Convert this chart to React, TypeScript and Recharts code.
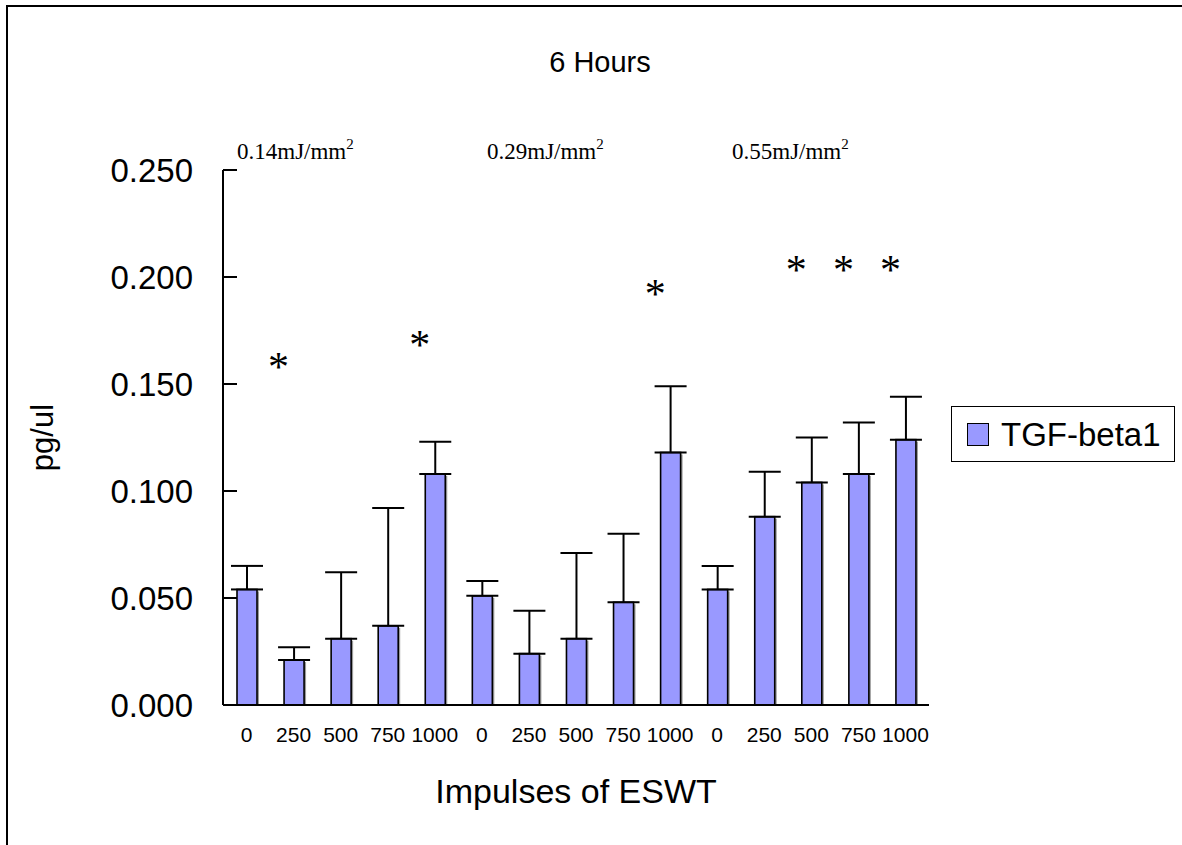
import { ComposedChart, Bar, ErrorBar, Scatter, XAxis, YAxis, Legend, Label } from 'recharts';

// impulses of ESWT, three energy groups of five
const impulses = ['0', '250', '500', '750', '1000', '0', '250', '500', '750', '1000', '0', '250', '500', '750', '1000'];
const tgfBeta1 = [0.054, 0.021, 0.031, 0.037, 0.108, 0.051, 0.024, 0.031, 0.048, 0.118, 0.054, 0.088, 0.104, 0.108, 0.124];
const tgfBeta1Err = [0.011, 0.006, 0.031, 0.055, 0.015, 0.007, 0.020, 0.040, 0.032, 0.031, 0.011, 0.021, 0.021, 0.024, 0.020];
// y position of the significance asterisks
const significance = [null, 0.161, null, null, 0.1715, null, null, null, null, 0.1953, null, null, 0.2065, 0.2065, 0.2065];
const energyLevels = ['0.14mJ/mm', '0.29mJ/mm', '0.55mJ/mm'];
const yTicks = [0, 0.05, 0.1, 0.15, 0.2, 0.25];

const data = impulses.map((imp, i) => ({
    idx: i,
    impulse: imp,
    value: tgfBeta1[i],
    err: [0, tgfBeta1Err[i]],
    star: significance[i],
}));

const SANS = 'Arial, "Liberation Sans", sans-serif';
const SERIF = '"Times New Roman", "Liberation Serif", serif';
const BAR_FILL = '#9999ff';
const Y_TICK_GAP = 30;

const YTick = ({ x, y, payload }: any) => (
    <g>
        <line x1={x + Y_TICK_GAP} x2={x + Y_TICK_GAP + 14} y1={y} y2={y} stroke="#000" strokeWidth={2} />
        <text x={x} y={y} dy="0.36em" textAnchor="end" fontSize={33} fontFamily={SANS} fill="#000">
            {Number(payload.value).toFixed(3)}
        </text>
    </g>
);

const XTick = ({ x, y, payload }: any) => (
    <text x={x} y={y} dy="0.71em" textAnchor="middle" fontSize={21} fontFamily={SANS} fill="#000">
        {impulses[payload.value]}
    </text>
);

const ShadowBar = ({ x, y, width, height }: any) => {
    if (!height || height <= 0) return null;
    return (
        <g>
            <rect x={x + width} y={y + 2} width={2} height={height - 2} fill="#9a9a9a" />
            <rect x={x} y={y} width={width} height={height} fill={BAR_FILL} stroke="#000" strokeWidth={1.6} />
        </g>
    );
};

const Star = ({ cx, cy, payload }: any) => {
    if (payload == null || payload.star == null) return null;
    return (
        <text x={cx - 15} y={cy + 21} textAnchor="middle" fontSize={42} fontFamily={SERIF} fill="#000">
            *
        </text>
    );
};

const LegendBox = () => (
    <div
        style={{
            border: '1.5px solid #000',
            width: 224,
            height: 56,
            boxSizing: 'border-box',
            display: 'flex',
            alignItems: 'center',
            paddingLeft: 15,
            background: '#fff',
        }}
    >
        <div style={{ width: 22, height: 23, background: BAR_FILL, border: '1.5px solid #000', boxSizing: 'border-box' }} />
        <span style={{ marginLeft: 12, fontSize: 33, fontFamily: SANS, color: '#000', lineHeight: 1 }}>TGF-beta1</span>
    </div>
);

export default function App() {
    return (
        <div style={{ position: 'absolute', left: 0, top: 0, width: 1182, height: 845, overflow: 'hidden', background: '#fff' }}>
            <div
                style={{
                    position: 'absolute',
                    left: 6,
                    top: 5,
                    width: 1200,
                    height: 900,
                    borderTop: '2px solid #000',
                    borderLeft: '2px solid #000',
                }}
            />
            <ComposedChart
                width={1182}
                height={845}
                data={data}
                margin={{ top: 170, right: 253, bottom: 0, left: 0 }}
                barCategoryGap={0}
            >
                <XAxis
                    dataKey="idx"
                    type="category"
                    height={140}
                    tick={<XTick />}
                    tickLine={false}
                    tickSize={0}
                    tickMargin={22}
                    interval={0}
                    axisLine={{ stroke: '#000', strokeWidth: 2 }}
                >
                    <Label
                        value="Impulses of ESWT"
                        position="insideBottom"
                        offset={42}
                        style={{ fontSize: 34, fontFamily: SANS, fill: '#000' }}
                    />
                </XAxis>
                <YAxis
                    width={223}
                    domain={[0, 0.25]}
                    ticks={yTicks}
                    tick={<YTick />}
                    tickLine={false}
                    tickSize={0}
                    tickMargin={Y_TICK_GAP}
                    axisLine={{ stroke: '#000', strokeWidth: 2 }}
                    allowDataOverflow
                >
                    <Label
                        content={({ viewBox }: any) => {
                            const cy = viewBox.y + viewBox.height / 2;
                            return (
                                <text
                                    x={42}
                                    y={cy}
                                    transform={`rotate(-90, 42, ${cy})`}
                                    textAnchor="middle"
                                    dominantBaseline="central"
                                    fontSize={31}
                                    fontFamily={SANS}
                                    fill="#000"
                                >
                                    pg/ul
                                </text>
                            );
                        }}
                    />
                </YAxis>
                <Legend
                    layout="horizontal"
                    verticalAlign="middle"
                    align="center"
                    content={() => <LegendBox />}
                    wrapperStyle={{ position: 'absolute', left: 951, top: 406, width: 224, height: 56 }}
                />
                <Bar dataKey="value" name="TGF-beta1" barSize={20} shape={<ShadowBar />} isAnimationActive={false}>
                    <ErrorBar dataKey="err" width={16} stroke="#000" strokeWidth={2} direction="y" />
                </Bar>
                <Scatter dataKey="star" shape={<Star />} legendType="none" isAnimationActive={false} />
            </ComposedChart>
            <svg
                width={1182}
                height={845}
                style={{ position: 'absolute', left: 0, top: 0, pointerEvents: 'none' }}
            >
                <text x={600} y={72} textAnchor="middle" fontSize={29} fontFamily={SANS} fill="#000">
                    6 Hours
                </text>
                {energyLevels.map((lbl, i) => (
                    <text key={lbl} x={[237, 487, 732][i]} y={159} fontSize={23} fontFamily={SERIF} fill="#000">
                        {lbl}
                        <tspan dy={-10} fontSize={15}>2</tspan>
                    </text>
                ))}
            </svg>
        </div>
    );
}
